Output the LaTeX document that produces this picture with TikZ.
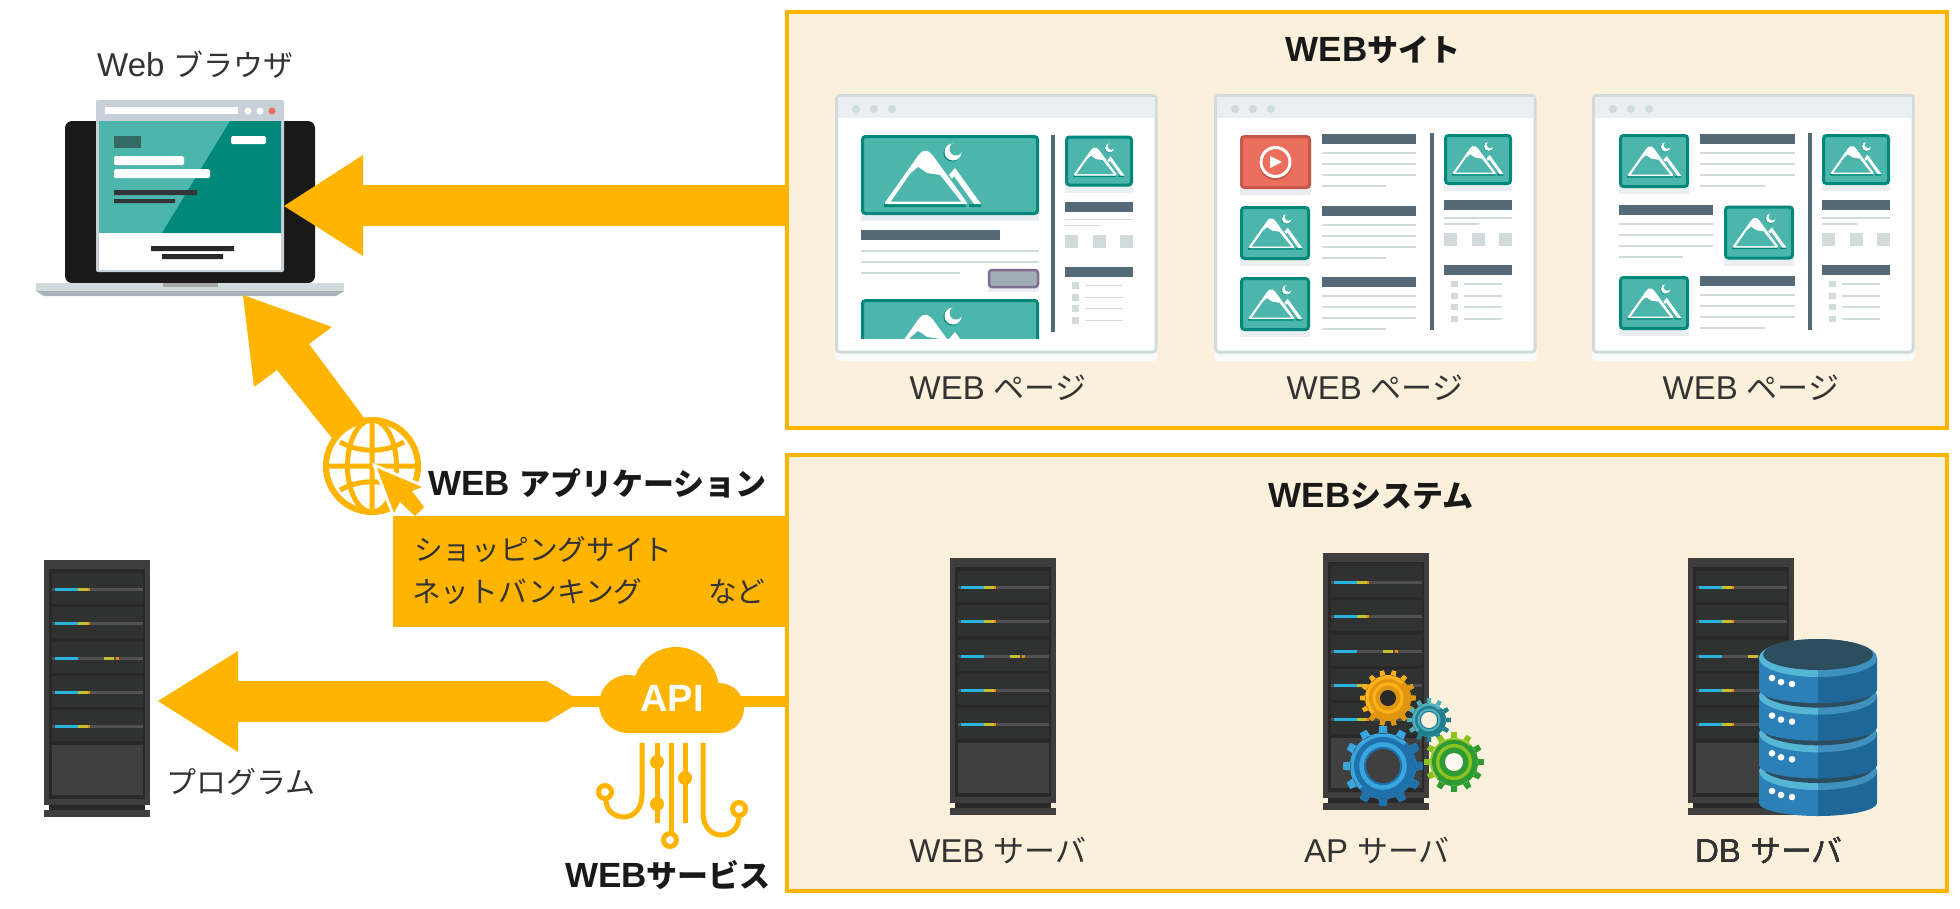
\documentclass[tikz,border=0pt]{standalone}
\usepackage{fontspec}
\setmainfont{Liberation Sans}
\newfontfamily\jpfont{Noto Sans CJK JP}
\newcommand{\jps}[1]{{\jpfont\fontsize{28.7}{36}\selectfont #1}}
\newcommand{\jp}[1]{{\jpfont\fontsize{30}{36}\selectfont #1}}
\newcommand{\jpb}[1]{{\jpfont\fontsize{31}{36}\selectfont #1}}
\definecolor{orng}{HTML}{FFB400}
\definecolor{cream}{HTML}{FBF0DB}
\definecolor{txtgray}{HTML}{333333}
\definecolor{frameline}{HTML}{D2DBDC}
\definecolor{barline}{HTML}{EAEEF0}
\definecolor{slate}{HTML}{546A77}
\definecolor{tealA}{HTML}{4DB6AC}
\definecolor{tealB}{HTML}{00897B}
\definecolor{redA}{HTML}{EC6F5E}
\definecolor{redB}{HTML}{C9564A}
\definecolor{rackA}{HTML}{3E3E3E}
\definecolor{rackB}{HTML}{292929}
\definecolor{rackC}{HTML}{303231}
\definecolor{rackP}{HTML}{404040}
\definecolor{rackU}{HTML}{2BB3E0}
\definecolor{winbar}{HTML}{C7D0D8}
\definecolor{gearOa}{HTML}{FFB31A}
\definecolor{gearOb}{HTML}{E0960F}
\definecolor{gearTa}{HTML}{4FB0BC}
\definecolor{gearTb}{HTML}{1F7F8E}
\definecolor{gearGa}{HTML}{8CC21F}
\definecolor{gearGb}{HTML}{2C9A35}
\definecolor{gearBa}{HTML}{3AA6DE}
\definecolor{gearBb}{HTML}{1F71AC}
\definecolor{dbA}{HTML}{2C80B8}
\definecolor{dbB}{HTML}{1D6799}
\definecolor{dbC}{HTML}{56B6D6}
\definecolor{dbD}{HTML}{3F90BE}
\definecolor{dbE}{HTML}{2B4D5E}
\tikzset{
	lbl/.style={font=\fontsize{33}{38}\selectfont,text=txtgray,inner sep=0pt},
	ttl/.style={font=\fontsize{35}{38}\selectfont\bfseries,text=black!90,inner sep=0pt},
	sitebox/.style={draw=orng,fill=cream,line width=4pt},
	thin line/.style={line width=1.6pt,frameline},
	circuit/.style={draw=orng,line width=5pt}
}
% mountain picture: left end of base, scale
\newcommand{\mtn}[3]{
	\begin{scope}[shift={(#1,#2)},scale=#3]
		\fill[tealB] (0,0) rectangle (81.5,3) (85,0) rectangle (97,3);
		\fill[white,rounded corners=2pt] (0,0)--(36,-51)--(41,-54)--(47,-51)--(84,0)--cycle;
		\fill[tealA] (7,-2.5)--(26,-30)--(34,-37)--(43,-31)--(56,-29)--(77,-2.5)--cycle;
		\fill[white] (65,-29)--(71,-36)--(97,0)--(90,0)--(70,-28)--(68,-25)--cycle;
		\fill[tealB] (68,-51) circle (8.5pt);
		\fill[white] (69,-52) circle (8.5pt);
		\fill[tealA] (72,-55) circle (6.5pt);
	\end{scope}
}
% picture frame: x, y, w, h
\newcommand{\imgbox}[4]{
	\fill[barline] (#1,#2+8) rectangle (#1+#3,#2+#4+6);
	\draw[tealB,fill=tealA,line width=3pt,rounded corners=3pt] (#1+1.5,#2+1.5) rectangle (#1+#3-1.5,#2+#4-1.5);
}
\newcommand{\thumb}[2]{
	\imgbox{#1}{#2}{70}{54}
	\mtn{#1+8}{#2+42}{.56}
}
% heading bar with four lines: x, y, w
\newcommand{\txtblock}[3]{
	\fill[slate] (#1,#2) rectangle (#1+#3,#2+10);
	\foreach \d in {19,30,41}
	\draw[thin line] (#1,#2+\d)--(#1+#3,#2+\d);
	\draw[thin line] (#1,#2+52)--(#1+.68*#3,#2+52);
}
% page: left end, shift of the side column
\newcommand{\webframe}[2]{
	\fill[white!70!barline,rounded corners=4pt] (0,8) rectangle (322.5,267);
	\draw[frameline,fill=white,line width=3pt,rounded corners=3pt] (1.5,1.5) rectangle (321,258);
	\fill[barline] (3,3) rectangle (319.5,24);
	\foreach \x in {21,39,57}
	\fill[frameline] (\x,15) circle (4pt);
	\fill[slate] (216,39+#2) rectangle (220,236+#2);
	\imgbox{230}{40+#2}{68}{51}
	\mtn{238}{80+#2}{.53}
	\fill[slate] (230,106+#2) rectangle (298,116+#2);
	\draw[thin line] (230,124+#2)--(298,124+#2) (230,130+#2)--(265,130+#2);
	\foreach \x in {230,257.5,285}
	\fill[frameline] (\x,139+#2) rectangle (\x+13,152+#2);
	\fill[slate] (230,171+#2) rectangle (298,181+#2);
	\foreach \y in {190,202,213,225} {
		\fill[frameline] (237,\y-3.3+#2) rectangle (244,\y+3.3+#2);
		\draw[thin line] (250,\y+#2)--(288,\y+#2);
	}
}
% rack: left, top
\newcommand{\server}[2]{
	\begin{scope}[shift={(#1,#2)}]
		\fill[rackA] (0,0) rectangle (106,245);
		\fill[rackB] (5,9) rectangle (101,239);
		\fill[rackB] (5,245) rectangle (101,250);
		\fill[rackA] (0,250) rectangle (106,257);
		\fill[rackP] (8,185) rectangle (99,235);
		\foreach \y in {13,47,82,116,150} {
			\fill[rackC] (8,\y) rectangle (99,\y+31);
			\fill[rackA!90!white] (8,\y+14.5) rectangle (99,\y+17.5);
			\fill[rackU] (11,\y+14.5) rectangle (34,\y+17.5);
		}
		\foreach \y in {13,47,116,150} {
			\fill[yellow!75!black] (34,\y+14.5) rectangle (44,\y+17.5);
			\fill[orange] (44,\y+14.5) rectangle (46,\y+17.5);
		}
		\fill[yellow!75!black] (60,96.5) rectangle (70,99.5);
		\fill[orange] (72,96.5) rectangle (75,99.5);
	\end{scope}
}
% gear: x, y, tip, root, ring, hole, teeth, light, dark
\newcommand{\gearpath}[3]{
	(0,0) circle (#2 pt)
	\foreach \i in {1,...,#3} {
		(\i*360/#3-90/#3*1.05:#2-.5)--(\i*360/#3-90/#3*.7:#1)--(\i*360/#3+90/#3*.7:#1)--(\i*360/#3+90/#3*1.05:#2-.5)--cycle
	}
}
\newcommand{\gear}[9]{
	\begin{scope}[shift={(#1,#2)}]
		\fill[#8] \gearpath{#3}{#4}{#7};
		\begin{scope}
			\clip (-50,50)--(50,-50)--(50,50)--cycle;
			\fill[#9] \gearpath{#3}{#4}{#7};
		\end{scope}
		\fill[#9] (0,0) circle (#5 pt);
		\fill[#8] (0,0) circle (#5*.82 pt);
		\fill[#9] (0,0) circle (#5*.66 pt);
	\end{scope}
}
% one disc of the database: y of its top face
\newcommand{\dbdisc}[1]{
	\fill[dbA] (1759,#1) -- (1759,#1+32) .. controls (1759,#1+39) and (1785,#1+45) .. (1818,#1+45) -- (1818,#1) -- cycle;
	\fill[dbB] (1877,#1) -- (1877,#1+32) .. controls (1877,#1+39) and (1851,#1+45) .. (1818,#1+45) -- (1818,#1) -- cycle;
	\fill[dbC] (1759,#1) .. controls (1759,#1+10.5) and (1785,#1+19) .. (1818,#1+19) -- (1818,#1-19) .. controls (1785,#1-19) and (1759,#1-10.5) .. (1759,#1) -- cycle;
	\fill[dbD] (1877,#1) .. controls (1877,#1+10.5) and (1851,#1+19) .. (1818,#1+19) -- (1818,#1-19) .. controls (1851,#1-19) and (1877,#1-10.5) .. (1877,#1) -- cycle;
	\fill[dbE] (1818,#1-3.5) ellipse (55pt and 15.5pt);
	\foreach \x/\d in {1772/20,1781/24,1792/26}
	\fill[white] (\x,#1+\d) circle (3.3pt);
}
\begin{document}
\begin{tikzpicture}[x=1pt,y=-1pt]
	\useasboundingbox (0,0) rectangle (1960,908);
	\draw[sitebox] (787,12) rectangle (1947,428);
	\draw[sitebox] (787,455) rectangle (1947,891);
	\node[ttl] (sitettl) at (1373,50) {WEB\jpb{サイト}};
	\node[ttl] (systemttl) at (1371,496) {WEB\jpb{システム}};
	%pages
	\begin{scope}[shift={(835,94)}]
		\webframe{0}{1.5}
		\imgbox{26}{41}{178}{80}
		\mtn{23+26}{41+69}{1}
		\fill[slate] (26,136) rectangle (165,146);
		\draw[thin line] (26,157)--(204,157) (26,168)--(204,168) (26,179)--(125,179);
		\fill[barline] (153,180) rectangle (204,198);
		\draw[slate!70!violet!80,fill=slate!55,line width=2.5pt,rounded corners=3pt] (154,176) rectangle (203,193);
		\begin{scope}
			\clip (20,200) rectangle (210,244);
			\imgbox{26}{205}{178}{80}
			\mtn{49}{274}{1}
		\end{scope}
	\end{scope}
	\begin{scope}[shift={(1214,94)}]
		\webframe{0}{0}
		\fill[barline] (26,50) rectangle (97,101);
		\draw[redB,fill=redA,line width=3pt,rounded corners=3pt] (27.5,42.5) rectangle (95.5,93.5);
		\fill[redB] (61.5,69.5) circle (16.5pt);
		\draw[white,line width=3pt,fill=redA] (61.5,68) circle (14.5pt);
		\fill[white] (56,62)--(68,68)--(56,74)--cycle;
		\thumb{26}{112}
		\thumb{26}{183}
		\txtblock{108}{40}{94}
		\txtblock{108}{112}{94}
		\txtblock{108}{183}{94}
	\end{scope}
	\begin{scope}[shift={(1592,94)}]
		\webframe{0}{0}
		\thumb{27}{40}
		\thumb{132}{111.5}
		\thumb{27}{182}
		\txtblock{108}{40}{95}
		\txtblock{27}{111}{94}
		\txtblock{108}{182}{95}
	\end{scope}
	\node[lbl] (pagea) at (998,388) {WEB \jpb{ページ}};
	\node[lbl] (pageb) at (1375,388) {WEB \jpb{ページ}};
	\node[lbl] (pagec) at (1751,388) {WEB \jpb{ページ}};
	%laptop
	\node[lbl,anchor=west] (browser) at (97,65) {Web \jp{ブラウザ}};
	\fill[black!90,rounded corners=7pt] (65,283)--(65,121)--(315,121)--(315,283)--cycle;
	\fill[frameline] (36,283) rectangle (344,291);
	\fill[winbar!85!black] (36,291)--(344,291)--(336,296)--(44,296)--cycle;
	\fill[black!35] (163,283) rectangle (218,287);
	\fill[winbar,rounded corners=2pt] (96,272)--(96,100)--(284,100)--(284,272)--cycle;
	\fill[white] (99,121) rectangle (281,270);
	\fill[white] (105,107) rectangle (238,114);
	\foreach \x in {248,260}
	\fill[white] (\x,111) circle (3.5pt);
	\fill[redA] (272,111) circle (3.5pt);
	\fill[tealA] (99,121) rectangle (281,233);
	\fill[tealB] (230,121)--(281,121)--(281,233)--(162,233)--cycle;
	\fill[tealB!50!black!80] (114,136) rectangle (141,148);
	\fill[white,rounded corners=1.5pt] (231,136) rectangle (266,144) (114,156) rectangle (184,165) (114,169) rectangle (210,178);
	\fill[rackB!80!slate] (114,190) rectangle (197,195) (114,199) rectangle (175,203);
	\fill[rackB] (151,246) rectangle (234,251) (162,254) rectangle (223,259);
	%arrows
	\fill[orng] (284,206)--(363,155)--(363,185)--(787,185)--(787,226)--(363,226)--(363,256)--cycle;
	\fill[orng] (243,295)--(332,327)--(309,344)--(365,419)--(332,438)--(277,370)--(254,387)--cycle;
	\fill[orng] (158,701)--(238,651)--(238,681)--(547,681)--(572,696)--(787,696)--(787,707)--(572,707)--(547,722)--(238,722)--(238,752)--cycle;
	%globe
	\draw[orng,line width=6pt,fill=white] (372,466) circle (46pt);
	\draw[orng,line width=5pt] (372,466) ellipse (24.5pt and 46pt) (372,420)--(372,512) (326,466)--(418,466);
	\draw[orng,line width=5pt] (340,442) .. controls (360,453) and (384,453) .. (404,442);
	\draw[orng,line width=5pt] (340,490) .. controls (360,479) and (384,479) .. (404,490);
	\draw[white,line width=6pt,fill=orng,line join=miter] (377,468)--(422,487)--(412,491)--(424,507)--(415,516)--(400,502)--(394,513)--cycle;
	\fill[orng] (377,468)--(422,487)--(412,491)--(424,507)--(415,516)--(400,502)--(394,513)--cycle;
	\fill[orng] (393,516) rectangle (787,627);
	\node[ttl,anchor=west] (appttl) at (428,483) {WEB \jpb{アプリケーション}};
	\node[lbl,anchor=west] (shop) at (414,550) {\jps{ショッピングサイト}};
	\node[lbl,anchor=west] (bank) at (412,592) {\jps{ネットバンキング}};
	\node[lbl,anchor=west] (etc) at (708,592) {\jps{など}};
	%cloud
	\fill[orng] (628,704) circle (29pt) (676,690) circle (43pt) (719,708) circle (25pt) (628,705) rectangle (719,733);
	\node[font=\fontsize{38}{40}\selectfont\bfseries,text=white,inner sep=0pt] (api) at (672,698) {API};
	\draw[circuit] (642,743)--(642,795) .. controls (642,808) and (634,817) .. (624,817) .. controls (614,817) and (606,810) .. (606,800);
	\draw[circuit] (657,743)--(657,823);
	\draw[circuit] (671,743)--(671,832);
	\draw[circuit] (685,743)--(685,823);
	\draw[circuit] (703,743)--(703,813) .. controls (703,826) and (711,835) .. (721,835) .. controls (731,835) and (739,828) .. (739,816);
	\draw[circuit,fill=white] (605,792) circle (6.5pt) (739,809) circle (6.5pt) (670,840) circle (6.5pt);
	\fill[orng] (657,762) circle (7pt) (657,804) circle (7pt) (685,778) circle (7pt);
	\node[ttl] (service) at (668,875) {WEB\jpb{サービス}};
	%servers
	\server{44}{560}
	\node[lbl,anchor=west] (program) at (166,782) {\jp{プログラム}};
	\server{950}{558}
	\node[lbl] (websrv) at (998,851) {WEB \jpb{サーバ}};
	\server{1323}{553}
	\gear{1388}{698}{28}{23}{19}{8}{14}{gearOa}{gearOb}
	\fill[rackB] (1388,698) circle (8pt);
	\gear{1429}{720}{22}{17}{14}{8}{12}{gearTa}{gearTb}
	\fill[cream] (1429,720) circle (8pt);
	\gear{1454}{762}{30}{24}{22}{9}{12}{gearGa}{gearGb}
	\fill[cream!40!white] (1454,762) circle (9pt);
	\gear{1383}{766}{40}{33}{29}{17}{12}{gearBa}{gearBb}
	\fill[rackP] (1383,766) circle (17pt);
	\node[lbl] (apsrv) at (1377,851) {AP \jpb{サーバ}};
	\server{1688}{558}
	\foreach \y in {771,733.3,695.6,658}
	\dbdisc{\y}
	\node[lbl] (dbsrv) at (1769,851) {DB \jpb{サーバ}};
\end{tikzpicture}
\end{document}
